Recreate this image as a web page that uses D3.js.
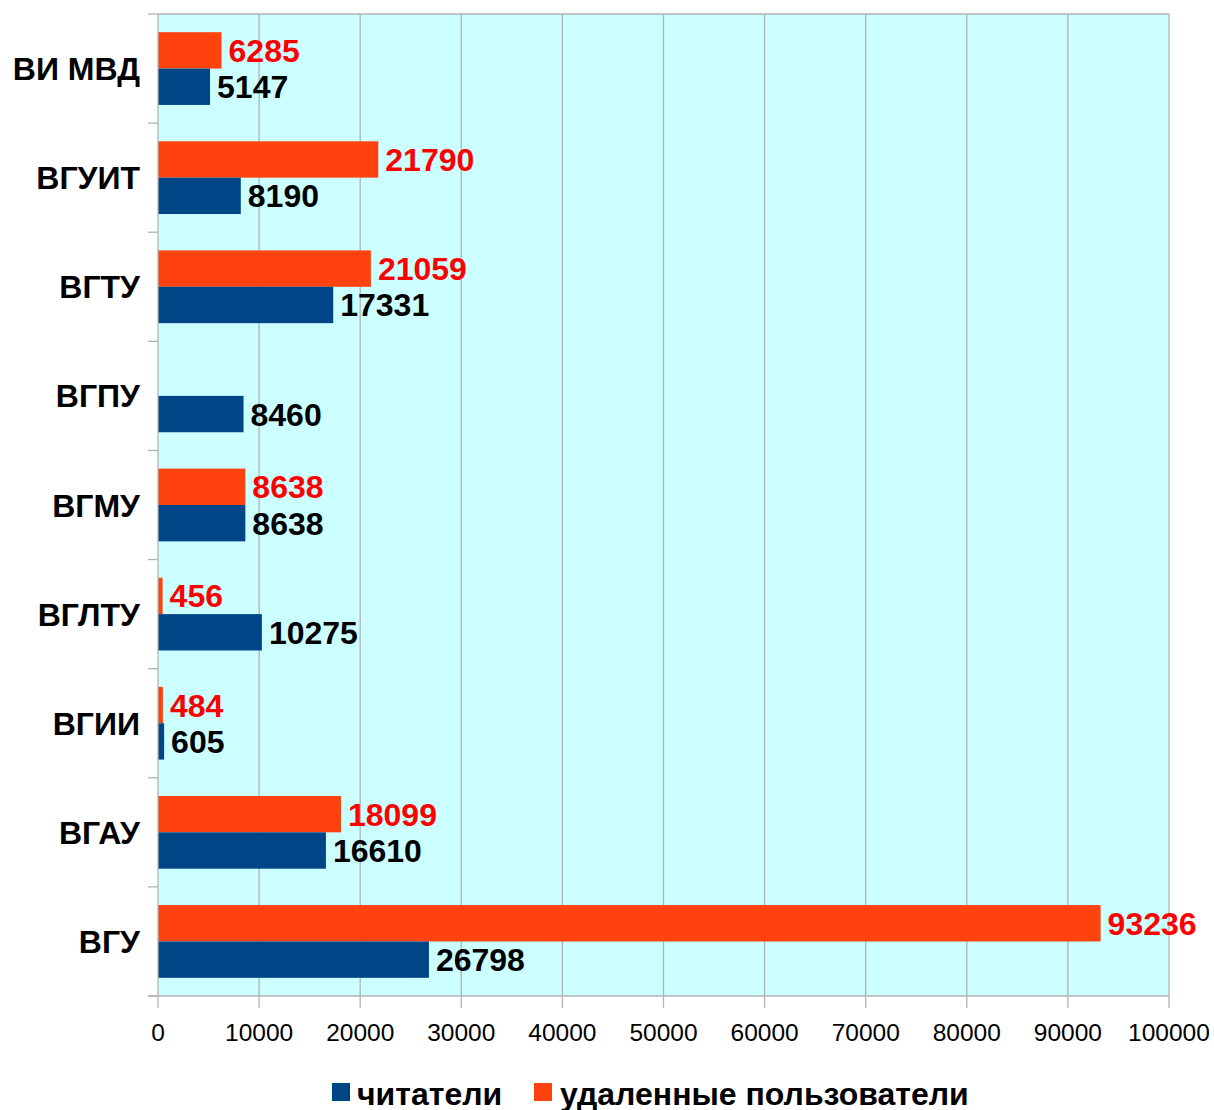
<!DOCTYPE html>
<html><head><meta charset="utf-8">
<script src="https://cdn.jsdelivr.net/npm/d3@7"></script>
<style>body{margin:0;background:#fff;}svg{display:block;font-family:"Liberation Sans",Arial,sans-serif;}</style>
</head><body>
<svg id="c" width="1214" height="1110"></svg>
<script>
const categories = ["ВИ МВД","ВГУИТ","ВГТУ","ВГПУ","ВГМУ","ВГЛТУ","ВГИИ","ВГАУ","ВГУ"];
const readers = [5147, 8190, 17331, 8460, 8638, 10275, 605, 16610, 26798];
const removed = [6285, 21790, 21059, null, 8638, 456, 484, 18099, 93236];
const xTicks = [0,10000,20000,30000,40000,50000,60000,70000,80000,90000,100000];
const seriesNames = ["читатели","удаленные пользователи"];
const colors = ["#004586","#ff420e"];

const svg = d3.select("#c");
const L = 158, R = 1169, T = 14, B = 996;
const x = d3.scaleLinear().domain([0,100000]).range([L,R]);
const y = d3.scaleBand().domain(categories).range([T,B]).paddingInner(0).paddingOuter(0);
const inner = d3.scaleBand().domain(["removed","readers"]).range([0,y.bandwidth()]).paddingInner(0).paddingOuter(0.5);

svg.append("rect").attr("x",L).attr("y",T).attr("width",R-L).attr("height",B-T).attr("fill","#ccffff");

// grid
svg.append("g").selectAll("line").data(xTicks.slice(1)).join("line")
  .attr("x1",d=>x(d)).attr("x2",d=>x(d)).attr("y1",T).attr("y2",B+12)
  .attr("stroke","#b3b3b3").attr("stroke-width",1.3);
svg.append("line").attr("x1",L).attr("x2",R).attr("y1",T).attr("y2",T).attr("stroke","#b3b3b3").attr("stroke-width",1.3);

// bars
const g = svg.append("g");
const fs = 32;
categories.forEach((c,i)=>{
  const y0 = y(c);
  if (removed[i]!=null){
    g.append("rect").attr("x",x(0)).attr("y",y0+inner("removed")).attr("width",x(removed[i])-x(0)).attr("height",inner.bandwidth()).attr("fill",colors[1]);
    g.append("text").attr("x",x(removed[i])+7).attr("y",y0+inner("removed")+inner.bandwidth()/2).attr("dy","0.36em")
      .attr("fill","#ff0000").attr("font-weight","bold").attr("font-size",fs).text(removed[i]);
  }
  g.append("rect").attr("x",x(0)).attr("y",y0+inner("readers")).attr("width",x(readers[i])-x(0)).attr("height",inner.bandwidth()).attr("fill",colors[0]);
  g.append("text").attr("x",x(readers[i])+7).attr("y",y0+inner("readers")+inner.bandwidth()/2).attr("dy","0.36em")
    .attr("fill","#000").attr("font-weight","bold").attr("font-size",fs).text(readers[i]);
});

// left axis
svg.append("line").attr("x1",L).attr("x2",L).attr("y1",T).attr("y2",B+12).attr("stroke","#b3b3b3").attr("stroke-width",1.3);
svg.append("g").selectAll("line").data(d3.range(categories.length+1)).join("line")
  .attr("x1",L-10).attr("x2",L).attr("y1",d=>T+d*y.step()).attr("y2",d=>T+d*y.step())
  .attr("stroke","#b3b3b3").attr("stroke-width",1.3);
svg.append("g").selectAll("text").data(categories).join("text")
  .attr("x",140).attr("y",d=>y(d)+y.bandwidth()/2).attr("dy","0.36em").attr("text-anchor","end")
  .attr("font-weight","bold").attr("font-size",fs).attr("fill","#000").text(d=>d);

// bottom axis
svg.append("line").attr("x1",L-10).attr("x2",R).attr("y1",B).attr("y2",B).attr("stroke","#b3b3b3").attr("stroke-width",1.3);
svg.append("g").selectAll("text").data(xTicks).join("text")
  .attr("x",d=>x(d)).attr("y",1041).attr("text-anchor","middle").attr("font-size",24.5).attr("fill","#000").text(d=>d);

// legend
const leg = svg.append("g");
leg.append("rect").attr("x",332).attr("y",1083).attr("width",18).attr("height",18).attr("fill",colors[0]);
leg.append("text").attr("x",357).attr("y",1093).attr("dy","0.36em").attr("font-weight","bold").attr("font-size",fs).text(seriesNames[0]);
leg.append("rect").attr("x",534).attr("y",1083).attr("width",18).attr("height",18).attr("fill",colors[1]);
leg.append("text").attr("x",560).attr("y",1093).attr("dy","0.36em").attr("font-weight","bold").attr("font-size",fs).text(seriesNames[1]);
</script>
</body></html>
